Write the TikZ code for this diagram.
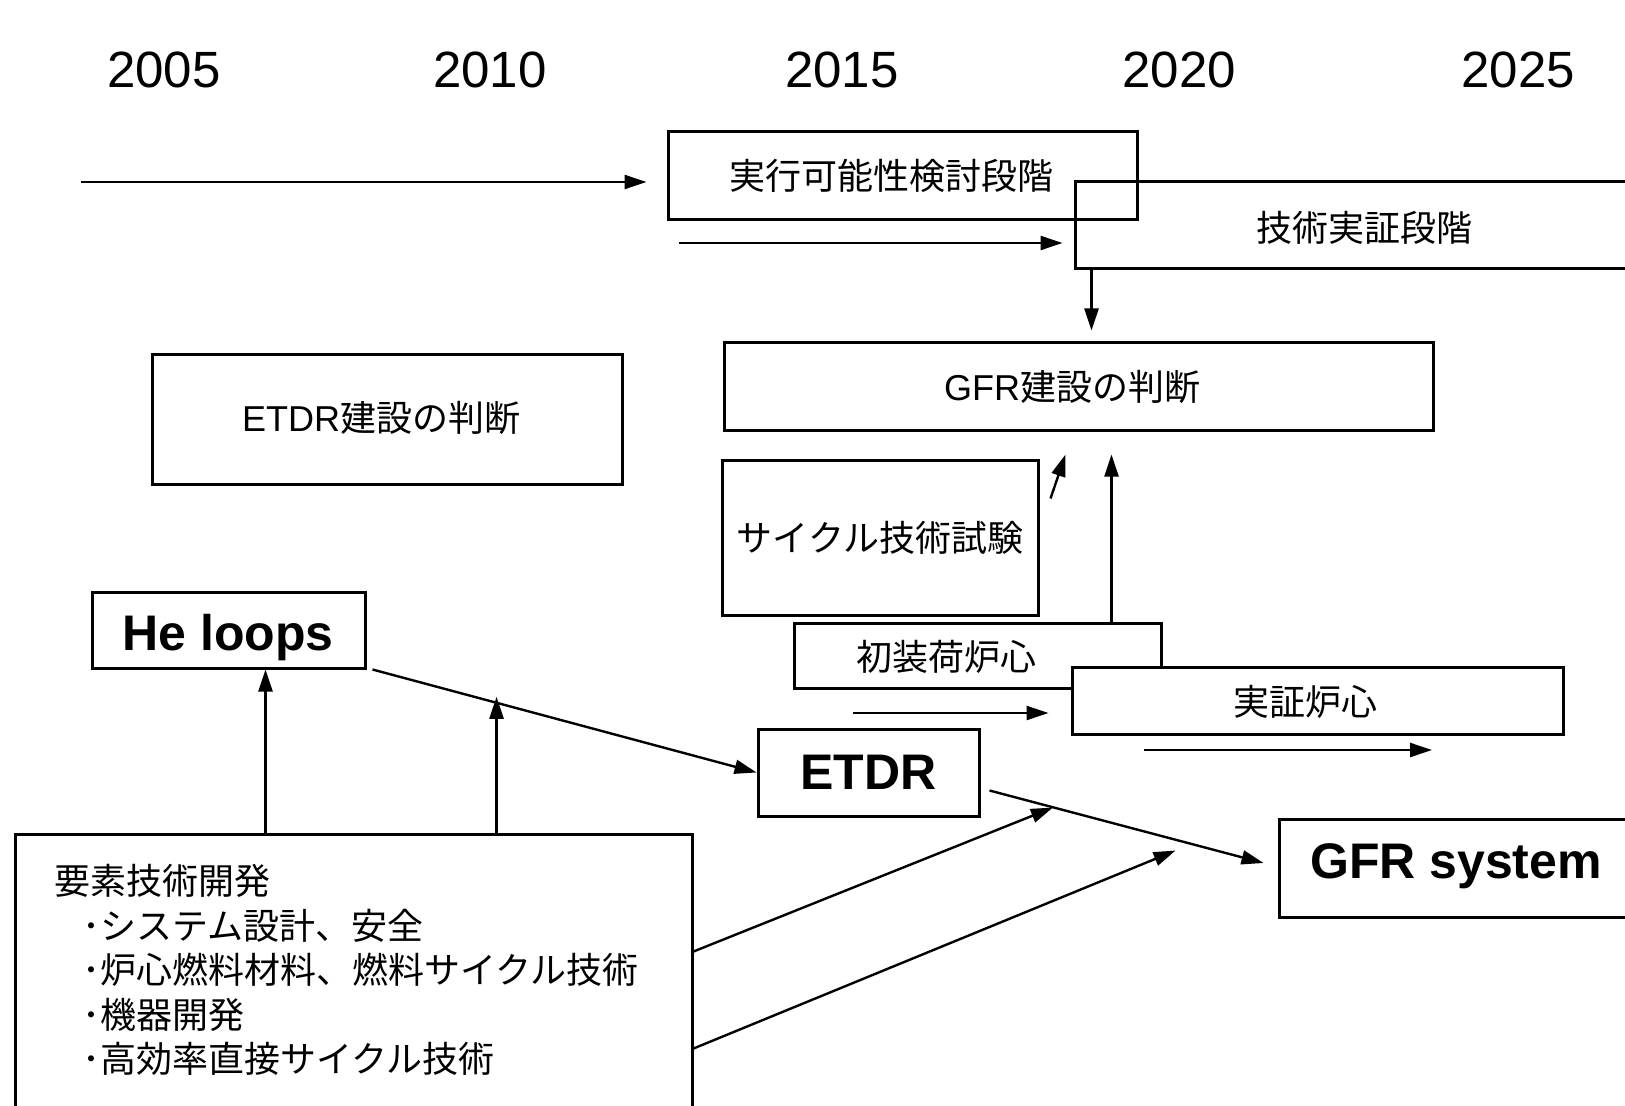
\documentclass[tikz,border=0pt]{standalone}
\usepackage{fontspec}
\setmainfont{Liberation Sans}
\newfontfamily\jp{Noto Sans CJK JP}
\usetikzlibrary{arrows.meta,positioning,calc,fit}

\begin{document}
\begin{tikzpicture}[x=0.5pt,y=-0.5pt,>={Triangle[length=11pt,width=7pt]},
  box/.style={draw,line width=1.5pt,inner sep=0pt},
  jtxt/.style={font=\jp\fontsize{18}{22.25}\selectfont},
  btxt/.style={font=\fontsize{25}{30}\selectfont\bfseries},
  yr/.style={font=\fontsize{25.5}{30}\selectfont},
  arr/.style={->,line width=1.2pt}]
  \useasboundingbox (0,0) rectangle (1625,1106);
  \clip (0,0) rectangle (1625,1106);
  % time axis
  \node[yr] (y2005) at (164,70) {2005};
  \node[yr] (y2010) at (490,70) {2010};
  \node[yr] (y2015) at (842,70) {2015};
  \node[yr] (y2020) at (1179,70) {2020};
  \node[yr] (y2025) at (1518,70) {2025};
  % phases and decisions
  \node[box,fit={(668,132) (1137,220)}] (feas) {};
  \node[jtxt] (feaslbl) at (891,176) {実行可能性検討段階};
  \node[box,fit={(1075,182) (1660,269)}] (demo) {};
  \node[jtxt] (demolbl) at (1364,228) {技術実証段階};
  \node[box,fit={(724,343) (1433,431)}] (gfrdec) {};
  \node[jtxt] (gfrdeclbl) at (1072,387) {{\rmfamily GFR}建設の判断};
  \node[box,fit={(152,355) (622,484)}] (etdrdec) {};
  \node[jtxt] (etdrdeclbl) at (381,418) {{\rmfamily ETDR}建設の判断};
  \node[box,fit={(722,460) (1038,615)}] (cycle) {};
  \node[jtxt] (cyclelbl) at (cycle.center) {サイクル技術試験};
  \node[box,fit={(794,623) (1161,688)}] (init) {};
  \node[jtxt] (initlbl) at (946,657) {初装荷炉心};
  \node[box,fill=white,fit={(1072,667) (1563,734)}] (core) {};
  \node[jtxt] (corelbl) at (1305,702) {実証炉心};
  % facilities
  \node[box,fit={(92,592) (365,668)}] (heloop) {};
  \node[btxt] (helooplbl) at (228,638) {He loops};
  \node[box,fit={(758,729) (979,816)}] (etdr) {};
  \node[btxt] (etdrlbl) at (etdr.center) {ETDR};
  \node[box,fit={(1279,819) (1660,917)}] (gfrsys) {};
  \node[btxt] (gfrsyslbl) at (1456,866) {GFR system};
  \node[box,fit={(15,834) (692,1130)}] (elem) {};
  \node[jtxt,align=left,anchor=north west,inner sep=0pt] (elemlbl) at (54,864)
    {要素技術開発\\\hspace*{14pt}･システム設計、安全\\\hspace*{14pt}･炉心燃料材料、燃料サイクル技術\\\hspace*{14pt}･機器開発\\\hspace*{14pt}･高効率直接サイクル技術};
  % arrows
  \coordinate (lstart) at (81,182);
  \draw[arr] (lstart) -- ([xshift=-10pt]lstart -| feas.west);
  \coordinate (fstart) at (679,243);
  \draw[arr] (fstart) -- ([xshift=-5.5pt]fstart -| demo.west);
  \draw[arr] ([xshift=9pt]demo.south west) -- ([xshift=9pt,yshift=5.5pt]demo.south west |- gfrdec.north);
  \draw[arr] ([shift={(5.5pt,-20pt)}]cycle.north east) -- ++(15,-44);
  \draw[arr] ([xshift=-25.5pt]init.north east) -- ([xshift=-25.5pt,yshift=-11pt]init.north east |- gfrdec.south);
  \coordinate (istart) at (853,713);
  \draw[arr] (istart) -- ([xshift=-11pt]istart -| core.west);
  \coordinate (cstart) at (1144,750);
  \draw[arr] (cstart) -- ++(288,0);
  \draw[arr] ([xshift=18.5pt]heloop.south |- elem.north) -- ([xshift=18.5pt]heloop.south);
  \coordinate (hstart) at ([xshift=3pt]heloop.south east);
  \draw[arr] (hstart) -- (etdr.west);
  \coordinate (hmid) at ($(hstart)!0.323!(etdr.west)$);
  \draw[arr] (hmid |- elem.north) -- ([yshift=3pt]hmid);
  \coordinate (estart) at ([shift={(4.5pt,-9pt)}]etdr.east);
  \draw[arr] (estart) -- ([xshift=-7pt,yshift=2.5pt]gfrsys.west);
  \draw[arr] ([yshift=-59.5pt]elem.north east) -- ($(estart)!0.22!(gfrsys.west)$);
  \draw[arr] ([yshift=-108pt]elem.north east) -- ([yshift=-5pt]$(estart)!0.646!(gfrsys.west)$);
\end{tikzpicture}
\end{document}
